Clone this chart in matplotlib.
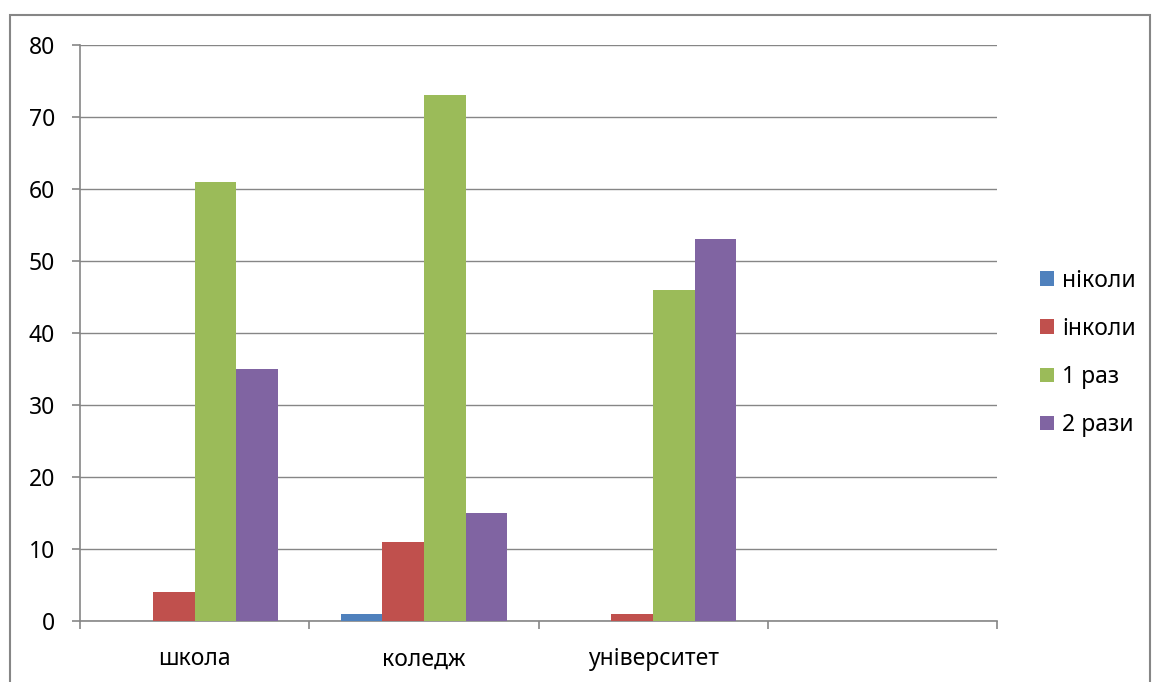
import numpy as np
import matplotlib.pyplot as plt
from matplotlib.patches import Rectangle

# дані
categories = ['школа', 'коледж', 'університет', '']
series_names = ['ніколи', 'інколи', '1 раз', '2 рази']
nikoly = [0, 1, 0, 0]
inkoly = [4, 11, 1, 0]
odyn_raz = [61, 73, 46, 0]
dva_razy = [35, 15, 53, 0]
colors = ['#4F81BD', '#C0504D', '#9BBB59', '#8064A2']

plt.rcParams['font.family'] = ['Noto Sans', 'DejaVu Sans']
grid_color = '#868686'
fs = 16.5

fig = plt.figure(figsize=(11.52, 6.82), dpi=100)
ax = fig.add_axes([80 / 1152, 1 - 621 / 682, 917 / 1152, 576 / 682])

x = np.arange(len(categories))
width = 1 / 5.5  # gap width 150%
values = [nikoly, inkoly, odyn_raz, dva_razy]
for i, (name, vals) in enumerate(zip(series_names, values)):
    ax.bar(x + (i - 1.5) * width, vals, width, label=name, color=colors[i], zorder=3)

ax.set_xlim(-0.5, len(categories) - 0.5)
ax.set_ylim(0, 80)
ax.set_yticks(np.arange(0, 81, 10))
ax.grid(axis='y', color=grid_color, linewidth=1, zorder=0)

# мітки категорій по центру, риски на межах
ax.set_xticks(np.arange(-0.5, len(categories), 1))
ax.set_xticklabels([])
ax.set_xticks(x, minor=True)
ax.set_xticklabels(categories, minor=True, fontsize=fs)
ax.tick_params(axis='x', which='minor', length=0, pad=19)
ax.tick_params(axis='x', which='major', length=6, color=grid_color, width=1.2)
ax.tick_params(axis='y', length=6, color=grid_color, width=1.2, labelsize=fs, pad=12)

for side in ['top', 'right']:
    ax.spines[side].set_visible(False)
for side in ['left', 'bottom']:
    ax.spines[side].set_color(grid_color)
    ax.spines[side].set_linewidth(1.2)

fig.legend(loc='center left', bbox_to_anchor=(1040 / 1152, 1 - 353 / 682),
           frameon=False, fontsize=fs, handlelength=0.62, handleheight=0.62,
           handletextpad=0.35, labelspacing=1.05, borderpad=0, borderaxespad=0)

# рамка діаграми
fig.patches.append(Rectangle((10 / 1152, -0.05), 1140 / 1152, 1.05 - 15 / 682,
                             transform=fig.transFigure, fill=False,
                             edgecolor=grid_color, linewidth=1.5))

fig.savefig('out.png', dpi=100)
